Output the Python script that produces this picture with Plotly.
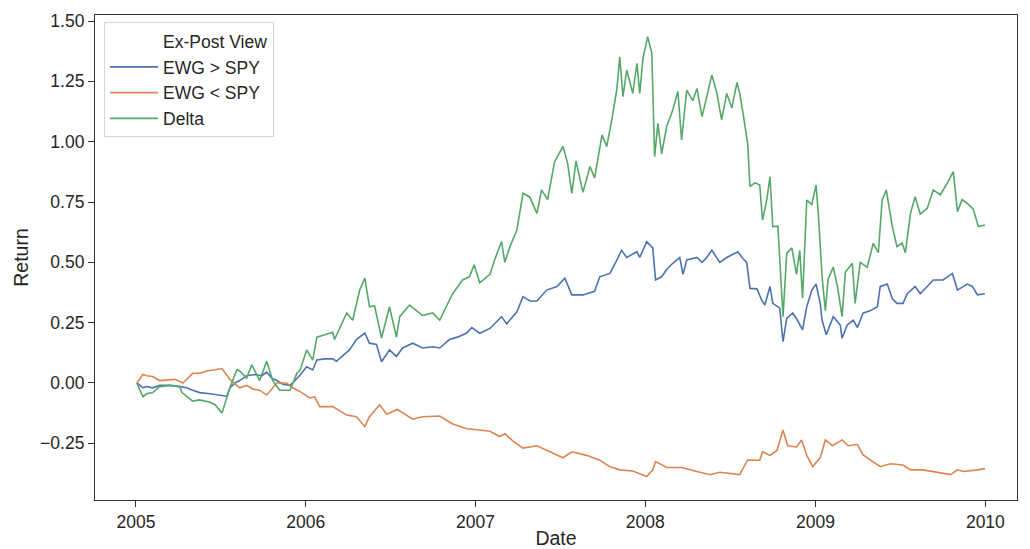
import plotly.graph_objects as go

# ---------------- data ----------------
ewg_gt_dates = [
    "2005-01-03","2005-01-16","2005-01-24","2005-02-06","2005-02-21","2005-03-15","2005-04-05","2005-04-20",
    "2005-05-03","2005-05-18","2005-06-09","2005-06-30","2005-07-15","2005-07-22","2005-08-02","2005-08-12",
    "2005-08-27","2005-09-14","2005-09-29","2005-10-09","2005-10-20","2005-10-31","2005-11-13","2005-11-28",
    "2005-12-04","2005-12-20","2006-01-03","2006-01-16","2006-01-25","2006-02-11","2006-02-28","2006-03-08",
    "2006-03-21","2006-04-05","2006-04-20","2006-05-08","2006-05-18","2006-06-02","2006-06-13","2006-06-30",
    "2006-07-15","2006-07-28","2006-08-19","2006-09-09","2006-10-01","2006-10-16","2006-11-06","2006-11-23",
    "2006-12-13","2006-12-24","2007-01-10","2007-02-01","2007-02-26","2007-03-09","2007-03-31","2007-04-13",
    "2007-04-28","2007-05-13","2007-06-03","2007-06-25","2007-07-12","2007-07-27","2007-08-20","2007-09-14",
    "2007-09-25","2007-10-17","2007-11-01","2007-11-11","2007-11-22","2007-12-14","2007-12-20","2008-01-04",
    "2008-01-17","2008-01-23","2008-02-05","2008-02-16","2008-02-29","2008-03-15","2008-03-22","2008-03-30",
    "2008-04-21","2008-05-02","2008-05-12","2008-05-23","2008-06-09","2008-06-24","2008-07-18","2008-07-29",
    "2008-08-06","2008-08-13","2008-08-28","2008-09-07","2008-09-14","2008-09-25","2008-10-01","2008-10-16",
    "2008-10-23","2008-10-31","2008-11-13","2008-11-23","2008-12-04","2008-12-13","2008-12-24","2009-01-02",
    "2009-01-11","2009-01-15","2009-01-24","2009-02-08","2009-02-23","2009-02-27","2009-03-10","2009-03-23",
    "2009-04-01","2009-04-13","2009-04-29","2009-05-14","2009-05-20","2009-06-04","2009-06-15","2009-06-25",
    "2009-07-08","2009-07-17","2009-08-03","2009-08-14","2009-08-29","2009-09-11","2009-10-02","2009-10-22",
    "2009-11-02","2009-11-23","2009-12-04","2009-12-15","2009-12-31",
]
ewg_gt_spy = [
    0.0,-0.02,-0.015,-0.02,-0.01,-0.01,-0.015,-0.02,
    -0.03,-0.04,-0.045,-0.05,-0.055,-0.02,0.0,0.01,
    0.03,0.035,0.03,0.045,0.02,0.01,-0.005,-0.01,
    0.0,0.033,0.067,0.054,0.095,0.10,0.10,0.09,
    0.11,0.137,0.18,0.207,0.165,0.16,0.088,0.137,
    0.11,0.145,0.165,0.145,0.15,0.145,0.18,0.19,
    0.207,0.23,0.206,0.226,0.275,0.245,0.295,0.358,
    0.34,0.34,0.385,0.40,0.434,0.365,0.365,0.38,
    0.44,0.454,0.51,0.55,0.52,0.544,0.52,0.586,
    0.56,0.427,0.44,0.47,0.496,0.52,0.45,0.51,
    0.52,0.50,0.52,0.55,0.50,0.52,0.544,0.515,
    0.50,0.392,0.39,0.344,0.323,0.40,0.33,0.31,
    0.171,0.268,0.29,0.26,0.22,0.316,0.385,0.41,
    0.33,0.26,0.20,0.275,0.24,0.185,0.24,0.26,
    0.23,0.289,0.30,0.316,0.40,0.41,0.35,0.33,
    0.33,0.37,0.40,0.37,0.40,0.427,0.427,0.454,
    0.385,0.41,0.40,0.365,0.37,
]

ewg_lt_dates = [
    "2005-01-03","2005-01-16","2005-01-24","2005-02-06","2005-02-21","2005-03-08","2005-03-26","2005-04-12",
    "2005-05-03","2005-05-18","2005-06-02","2005-06-20","2005-07-05","2005-07-22","2005-08-12","2005-08-27",
    "2005-09-09","2005-09-24","2005-10-09","2005-10-31","2005-11-21","2005-12-04","2005-12-20","2006-01-10",
    "2006-01-20","2006-01-31","2006-02-28","2006-03-30","2006-04-20","2006-05-08","2006-05-18","2006-06-09",
    "2006-06-24","2006-07-17","2006-08-06","2006-08-19","2006-09-09","2006-10-16","2006-11-13","2006-12-13",
    "2007-01-10","2007-02-01","2007-02-22","2007-03-05","2007-03-22","2007-04-13","2007-05-13","2007-06-10",
    "2007-07-08","2007-07-27","2007-08-28","2007-09-25","2007-10-17","2007-11-07","2007-12-05","2008-01-04",
    "2008-01-17","2008-01-23","2008-02-05","2008-02-16","2008-03-19","2008-04-06","2008-05-19","2008-06-09",
    "2008-07-22","2008-08-08","2008-09-03","2008-09-09","2008-09-25","2008-10-10","2008-10-23","2008-11-02",
    "2008-11-21","2008-12-02","2008-12-13","2008-12-26","2009-01-02","2009-01-11","2009-01-22","2009-02-06",
    "2009-02-27","2009-03-12","2009-04-01","2009-04-13","2009-05-20","2009-06-11","2009-07-08","2009-07-24",
    "2009-08-20","2009-09-11","2009-10-18","2009-11-02","2009-11-15","2009-12-15","2009-12-31",
]
ewg_lt_spy = [
    0.0,0.035,0.03,0.027,0.01,0.012,0.015,0.0,
    0.04,0.04,0.05,0.055,0.06,0.015,-0.02,-0.01,
    -0.025,-0.03,-0.05,0.0,0.0,-0.02,-0.036,-0.062,
    -0.058,-0.098,-0.098,-0.133,-0.14,-0.181,-0.14,-0.09,
    -0.13,-0.11,-0.133,-0.15,-0.14,-0.137,-0.17,-0.19,
    -0.195,-0.20,-0.222,-0.21,-0.24,-0.27,-0.26,-0.285,
    -0.31,-0.285,-0.30,-0.32,-0.347,-0.36,-0.365,-0.388,
    -0.36,-0.326,-0.34,-0.35,-0.35,-0.36,-0.38,-0.37,
    -0.38,-0.319,-0.32,-0.285,-0.30,-0.28,-0.195,-0.26,
    -0.265,-0.236,-0.30,-0.347,-0.33,-0.31,-0.236,-0.26,
    -0.236,-0.26,-0.255,-0.298,-0.347,-0.335,-0.34,-0.36,
    -0.36,-0.367,-0.38,-0.36,-0.367,-0.36,-0.355,
]

delta_dates = [
    "2005-01-03","2005-01-16","2005-01-24","2005-02-06","2005-02-21","2005-03-15","2005-04-05","2005-04-10",
    "2005-05-03","2005-05-18","2005-06-09","2005-06-20","2005-07-05","2005-07-22","2005-08-06","2005-08-12",
    "2005-08-27","2005-09-07","2005-09-24","2005-10-09","2005-10-22","2005-11-06","2005-11-28","2005-12-13",
    "2005-12-20","2006-01-03","2006-01-16","2006-01-25","2006-02-11","2006-02-28","2006-03-04","2006-03-19",
    "2006-03-30","2006-04-12","2006-04-27","2006-05-08","2006-05-18","2006-05-29","2006-06-13","2006-06-30",
    "2006-07-15","2006-07-22","2006-08-12","2006-08-27","2006-09-09","2006-10-01","2006-10-16","2006-10-31",
    "2006-11-13","2006-12-04","2006-12-19","2006-12-29","2007-01-10","2007-02-01","2007-02-11","2007-02-26",
    "2007-03-05","2007-03-16","2007-03-31","2007-04-13","2007-04-28","2007-05-13","2007-05-23","2007-06-05",
    "2007-06-16","2007-06-20","2007-07-08","2007-07-18","2007-07-27","2007-08-05","2007-08-20","2007-09-04",
    "2007-09-14","2007-09-30","2007-10-10","2007-10-21","2007-11-01","2007-11-07","2007-11-14","2007-11-22",
    "2007-12-05","2007-12-14","2007-12-20","2007-12-27","2008-01-06","2008-01-15","2008-01-21","2008-01-28",
    "2008-02-05","2008-02-16","2008-02-29","2008-03-11","2008-03-19","2008-03-30","2008-04-12","2008-04-21",
    "2008-05-02","2008-05-12","2008-05-23","2008-06-03","2008-06-13","2008-06-24","2008-07-05","2008-07-16",
    "2008-07-22","2008-07-29","2008-08-08","2008-08-13","2008-08-24","2008-09-03","2008-09-09","2008-09-18",
    "2008-09-25","2008-10-01","2008-10-12","2008-10-23","2008-10-31","2008-11-11","2008-11-21","2008-11-28",
    "2008-12-04","2008-12-13","2008-12-24","2009-01-02","2009-01-07","2009-01-15","2009-01-22","2009-01-28",
    "2009-02-08","2009-02-17","2009-02-27","2009-03-06","2009-03-21","2009-03-27","2009-04-07","2009-04-22",
    "2009-05-05","2009-05-16","2009-05-24","2009-06-02","2009-06-15","2009-06-25","2009-07-06","2009-07-13",
    "2009-07-24","2009-08-03","2009-08-14","2009-08-29","2009-09-11","2009-09-26","2009-10-11","2009-10-24",
    "2009-11-02","2009-11-12","2009-11-23","2009-12-06","2009-12-17","2009-12-31",
]
delta = [
    0.0,-0.057,-0.045,-0.04,-0.015,-0.01,-0.015,-0.04,
    -0.075,-0.07,-0.08,-0.09,-0.125,-0.02,0.055,0.05,
    0.02,0.075,0.01,0.09,0.01,-0.03,-0.03,0.04,
    0.054,0.137,0.095,0.19,0.20,0.21,0.18,0.248,
    0.29,0.26,0.385,0.435,0.316,0.32,0.186,0.316,
    0.19,0.275,0.323,0.30,0.28,0.29,0.26,0.32,
    0.37,0.427,0.44,0.49,0.415,0.45,0.51,0.586,
    0.50,0.565,0.634,0.786,0.77,0.703,0.80,0.76,
    0.869,0.917,0.98,0.91,0.786,0.92,0.79,0.897,
    0.85,1.028,0.98,1.09,1.22,1.352,1.187,1.297,
    1.20,1.325,1.20,1.345,1.435,1.366,0.938,1.076,
    0.95,1.063,1.131,1.208,1.007,1.214,1.17,1.22,
    1.104,1.187,1.276,1.20,1.09,1.20,1.14,1.245,
    1.20,1.118,0.993,0.814,0.83,0.82,0.675,0.758,
    0.855,0.648,0.65,0.275,0.537,0.56,0.45,0.55,
    0.351,0.758,0.74,0.82,0.70,0.44,0.30,0.43,
    0.48,0.40,0.275,0.46,0.496,0.33,0.50,0.48,
    0.579,0.54,0.758,0.80,0.648,0.565,0.58,0.54,
    0.703,0.772,0.70,0.724,0.80,0.78,0.827,0.876,
    0.71,0.76,0.744,0.72,0.648,0.655,
]

legend_title = "Ex-Post View"
series_names = ["EWG > SPY", "EWG < SPY", "Delta"]
colors = ["#4C72B0", "#DD8452", "#55A868"]
y_ticks = [-0.25, 0.0, 0.25, 0.5, 0.75, 1.0, 1.25, 1.5]
x_ticks = ["2005-01-01", "2006-01-01", "2007-01-01", "2008-01-01", "2009-01-01", "2010-01-01"]
x_labels = ["2005", "2006", "2007", "2008", "2009", "2010"]

# ---------------- figure ----------------
FONT = "Liberation Sans, Arial, sans-serif"
TXT = "#262626"
AX = "#333333"

fig = go.Figure()
# legend header entry (seaborn-style hue title shown as a blank legend row)
fig.add_trace(go.Scatter(
    x=[ewg_gt_dates[0]], y=[ewg_gt_spy[0]], mode="lines", name=legend_title,
    line=dict(color="rgba(0,0,0,0)", width=1.5), hoverinfo="skip",
))
for i, (xs, ys) in enumerate([(ewg_gt_dates, ewg_gt_spy), (ewg_lt_dates, ewg_lt_spy), (delta_dates, delta)]):
    fig.add_trace(go.Scatter(
        x=xs, y=ys, mode="lines", name=series_names[i],
        line=dict(color=colors[i], width=1.6),
    ))

fig.update_layout(
    width=1030, height=549,
    margin=dict(l=95, r=13, t=15, b=49),
    paper_bgcolor="white", plot_bgcolor="white",
    font=dict(family=FONT, size=17.5, color=TXT),
    showlegend=True,
    legend=dict(
        x=0.0098, y=0.985, xanchor="left", yanchor="top",
        bgcolor="rgba(255,255,255,0.8)", bordercolor="#d4d4d4", borderwidth=1,
        font=dict(family=FONT, size=17.5, color=TXT),
        itemwidth=48,
    ),
)
fig.update_xaxes(
    type="date", range=["2004-10-05", "2010-03-10"], automargin=False,
    tickvals=x_ticks, ticktext=x_labels,
    showgrid=False, zeroline=False,
    showline=True, linecolor=AX, linewidth=1.25, mirror=True,
    ticks="outside", ticklen=6, tickwidth=1.25, tickcolor=AX,
    tickfont=dict(family=FONT, size=17.5, color=TXT),
    title=dict(text="Date", font=dict(family=FONT, size=19.5, color=TXT), standoff=2),
)
fig.update_yaxes(
    range=[-0.485, 1.525], automargin=False,
    tickvals=y_ticks, tickformat=".2f",
    showgrid=False, zeroline=False,
    showline=True, linecolor=AX, linewidth=1.25, mirror=True,
    ticks="outside", ticklen=6, tickwidth=1.25, tickcolor=AX,
    tickfont=dict(family=FONT, size=17.5, color=TXT),
    title=dict(text="Return", font=dict(family=FONT, size=19.5, color=TXT), standoff=6),
)

fig.write_html(
    "out.html",
    config={"displayModeBar": False},
    post_script="document.body.style.margin='0';document.body.style.overflow='hidden';",
)
